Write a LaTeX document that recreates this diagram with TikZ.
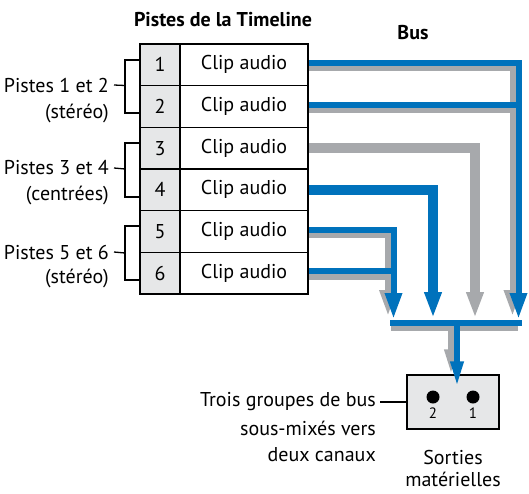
\documentclass[tikz,border=0pt]{standalone}
\usepackage{fontspec}
\setmainfont{PT Sans}
\usetikzlibrary{arrows.meta}
\definecolor{bblue}{HTML}{0072BC}
\definecolor{bgray}{HTML}{A7A9AC}
\definecolor{cellgray}{HTML}{E6E7E8}
\begin{document}
\begin{tikzpicture}[x=1pt,y=-1pt,
  every node/.style={font=\fontsize{20}{23}\selectfont, inner sep=0pt},
  numcell/.style={draw=black, line width=1.4pt, fill=cellgray, minimum width=40pt, minimum height=41.67pt},
  clipcell/.style={draw=black, line width=1.4pt, fill=white, minimum width=128pt, minimum height=41.67pt},
  bluel/.style={draw=bblue, line width=6pt},
  grayl/.style={draw=bgray, line width=6pt},
  bluethick/.style={draw=bblue, line width=10.5pt},
  graythick/.style={draw=bgray, line width=10.5pt},
  bigtip/.style={-{Triangle[width=16pt,length=26pt]}},
  smalltip/.style={-{Triangle[width=12pt,length=26pt]}},
  thin/.style={draw=black, line width=1.3pt},
  lab/.style={anchor=east},
  title/.style={font=\fontsize{20}{23}\selectfont\bfseries}
]
\useasboundingbox (0,0) rectangle (529,493);

% coordinates for the arrow tips
\coordinate (a1b) at (518.5,319);
\coordinate (a1g) at (512.5,316);
\coordinate (a3) at (475,318);
\coordinate (a4) at (433,318);
\coordinate (a5b) at (393.5,319);
\coordinate (a5g) at (388,316);
\coordinate (busLb) at (390,323);
\coordinate (busRb) at (521.5,323);
\coordinate (busLg) at (391,327.5);
\coordinate (busRg) at (518,327.5);

% table cells (placed first so lines can refer to them)
\foreach \i/\y in {1/64.83,2/106.5,3/148.17,4/189.83,5/231.5,6/273.17}{
  \node[numcell] (n\i) at (160,\y) {\i};
  \node[clipcell] (c\i) at (244,\y) {Clip audio};
}

% gray under-lines
\draw[grayl,bigtip] ([yshift=-3.5pt]c1.east) -| (a1g);
\draw[grayl] ([yshift=-3.5pt]c2.east) -| ([xshift=-6pt]a1b |- c2.east);
\draw[grayl,bigtip] ([yshift=-3.5pt]c5.east) -| (a5g);
\draw[grayl] ([yshift=-3.5pt]c6.east) -| ([xshift=-5.5pt]a5b |- c6.east);
% thick single tracks
\draw[graythick,bigtip] (c3.east) -| (a3);
\draw[bluethick,bigtip] (c4.east) -| (a4);
% blue lines
\draw[bluel,bigtip] ([yshift=2pt]c1.east) -| (a1b);
\draw[bluel] ([yshift=2pt]c2.east) -- ([yshift=2pt]a1b |- c2.east);
\draw[bluel,bigtip] ([yshift=2pt]c5.east) -| (a5b);
\draw[bluel] ([yshift=2pt]c6.east) -- ([yshift=2pt]a5b |- c6.east);

% bus bar
\draw[grayl] (busLg) -- (busRg);
\draw[bluel] (busLb) -- (busRb);

% redraw table on top
\foreach \i/\y in {1/64.83,2/106.5,3/148.17,4/189.83,5/231.5,6/273.17}{
  \node[numcell] at (160,\y) {\i};
  \node[clipcell] at (244,\y) {Clip audio};
}

% titles
\node[title] (t1) at (223,20) {Pistes de la Timeline};
\node[title] (t2) at (413,33) {Bus};

% left labels and brackets
\node[lab] (g1a) at (109,85) {Pistes 1 et 2};
\node[lab] (g1b) at (109,113) {(stéréo)};
\node[lab] (g2a) at (109,168) {Pistes 3 et 4};
\node[lab] (g2b) at (109,195) {(centrées)};
\node[lab] (g3a) at (109,252) {Pistes 5 et 6};
\node[lab] (g3b) at (109,278) {(stéréo)};
\coordinate (b1) at (125,85.5);
\coordinate (b2) at (125,169);
\coordinate (b3) at (125,253);
\draw[thin] ([xshift=5pt]g1a.east) -- (b1);
\draw[thin] ([xshift=5pt]g2a.east) -- (b2);
\draw[thin] ([xshift=5pt]g3a.east) -- (b3);
\draw[thin] (n1.west |- 0,60) -| (125,113) -- (n2.west |- 0,113);
\draw[thin] (n3.west |- 0,143) -| (125,197) -- (n4.west |- 0,197);
\draw[thin] (n5.west |- 0,226) -| (125,280) -- (n6.west |- 0,280);

% output
\node[draw=black, line width=1.4pt, fill=cellgray, minimum width=92pt, minimum height=54pt] (out) at (453,402) {};
\draw[grayl,smalltip] (451,327) -- ([xshift=-2pt,yshift=-1pt]out.north);
\draw[bluel,smalltip] (457,323) -- ([xshift=4pt,yshift=-13pt]out.north);
\fill (433,397) circle[radius=6.5];
\fill (473,397) circle[radius=6.5];
\node[font=\fontsize{15}{18}\selectfont] (o2) at (433,413) {2};
\node[font=\fontsize{15}{18}\selectfont] (o1) at (473,413) {1};

\node[lab] (d1) at (376,402) {Trois groupes de bus};
\node[lab] (d2) at (376,428) {sous-mixés vers};
\node[lab] (d3) at (376,455) {deux canaux};
\draw[thin] ([xshift=4pt]d1.east) -- (out.west);
\node (s1) at (453,457) {Sorties};
\node (s2) at (453,479) {matérielles};
\end{tikzpicture}
\end{document}
